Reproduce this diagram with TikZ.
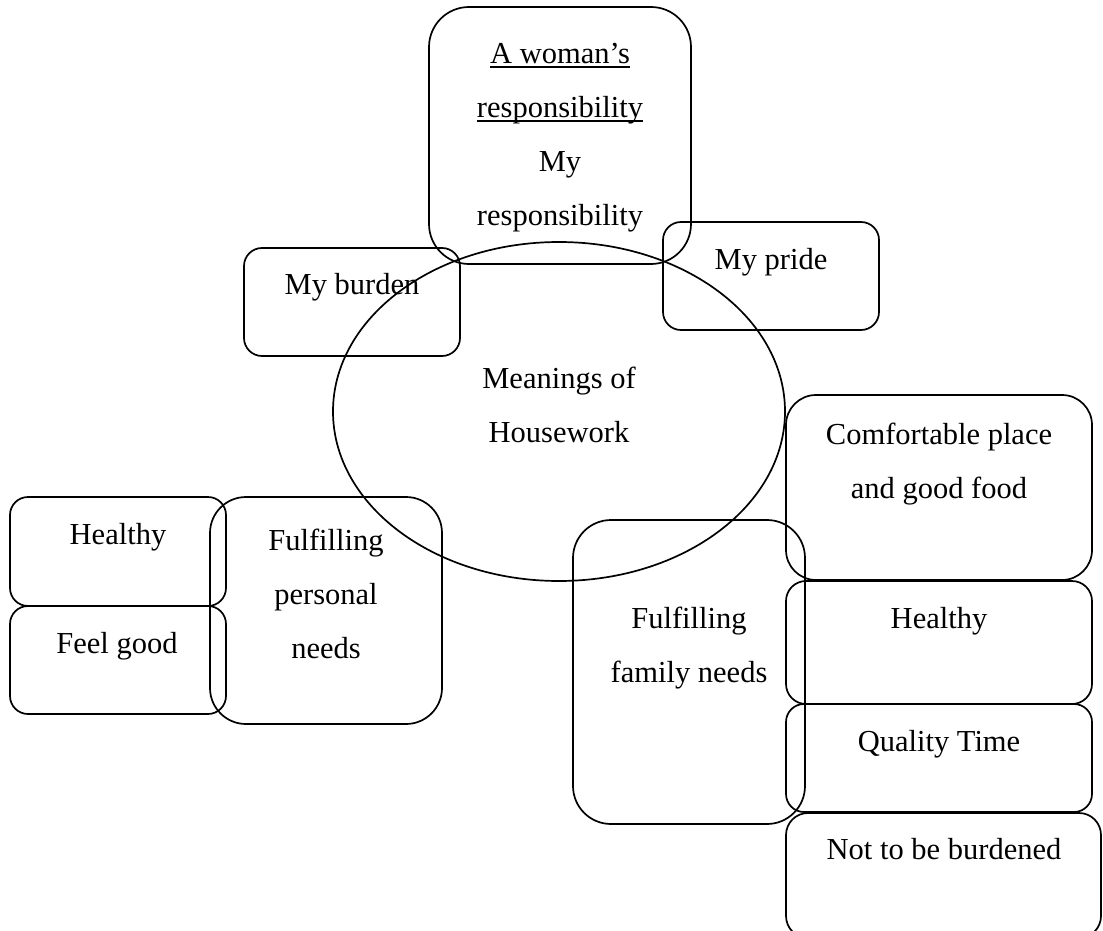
\documentclass[tikz,border=0pt]{standalone}
\usepackage{fontspec}
\setmainfont{Liberation Serif}
\usetikzlibrary{shapes.geometric}

% underline drawn at a fixed distance below the baseline
\newcommand{\wordul}[1]{\setbox0\hbox{#1}\rlap{\vrule width \wd0 height -3pt depth 4.6pt}\box0}

\tikzset{
  box/.style={draw, line width=1.7pt, rounded corners=#1, inner sep=0pt, outer sep=0pt},
  hub/.style={draw, ellipse, line width=1.7pt, inner sep=0pt,
              minimum width=452, minimum height=339},
  % multi-line texts are placed by the baseline of their last line
  txt/.style={font=\fontsize{30.5}{54}\selectfont, align=center, anchor=base, inner sep=0pt},
}

\begin{document}
\begin{tikzpicture}[x=1pt, y=-1pt]
  \useasboundingbox (0,0) rectangle (1103,931);
  \clip (0,0) rectangle (1103,931);

  % central ellipse
  \node[hub] (hub) at (559,411.5) {};
  \node[txt] (hubtxt) at (559,442) {Meanings of\\Housework};

  % upper boxes
  \node[box=40, minimum width=262, minimum height=257] (resp) at (560,135.5) {};
  \node[txt] (resptxt) at (560,225) {\wordul{A woman’s}\\\wordul{responsibility}\\My\\responsibility};

  \node[box=18, minimum width=216, minimum height=108] (burden) at (352,302) {};
  \node[txt] (burdentxt) at (352,294) {My burden};

  \node[box=18, minimum width=216, minimum height=108] (pride) at (771,276) {};
  \node[txt] (pridetxt) at (771,269) {My pride};

  % personal needs group
  \node[box=18, minimum width=216, minimum height=109] (lhealthy) at (118,551.5) {};
  \node[txt] (lhealthytxt) at (118,544) {Healthy};

  \node[box=18, minimum width=216, minimum height=108] (feel) at (118,660) {};
  \node[txt] (feeltxt) at (117,653) {Feel good};

  \node[box=36, minimum width=232, minimum height=227] (personal) at (326,610.5) {};
  \node[txt] (personaltxt) at (326,658) {Fulfilling\\personal\\needs};

  % family needs group
  \node[box=38, minimum width=232, minimum height=304] (family) at (689,672) {};
  \node[txt] (familytxt) at (689,682) {Fulfilling\\family needs};

  \node[box=30, minimum width=306, minimum height=185] (comfort) at (939,487.5) {};
  \node[txt] (comforttxt) at (939,498) {Comfortable place\\and good food};

  \node[box=20, minimum width=306, minimum height=123] (rhealthy) at (939,642.5) {};
  \node[txt] (rhealthytxt) at (939,628) {Healthy};

  \node[box=18, minimum width=306, minimum height=108] (quality) at (939,758) {};
  \node[txt] (qualitytxt) at (939,751) {Quality Time};

  \node[box=22, minimum width=315, minimum height=125] (notburd) at (943.5,875.5) {};
  \node[txt] (notburdtxt) at (944,859) {Not to be burdened};
\end{tikzpicture}
\end{document}
